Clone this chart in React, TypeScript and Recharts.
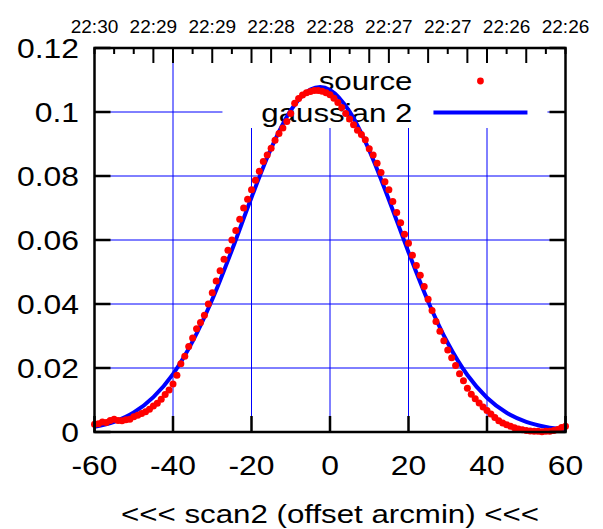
import React from 'react';
import { ComposedChart, XAxis, YAxis, CartesianGrid, Line, Scatter, ReferenceArea } from 'recharts';

// measured source points (offset arcmin, intensity)
const SOURCE_X = [
  -60, -59, -58, -57, -56, -55, -54, -53, -52, -51, -50, -49, -48, -47, -46, -45, -44, -43, -42, -41,
  -40, -39, -38, -37, -36, -35, -34, -33, -32, -31, -30, -29, -28, -27, -26, -25, -24, -23, -22, -21,
  -20, -19, -18, -17, -16, -15, -14, -13, -12, -11, -10, -9, -8, -7, -6, -5, -4, -3, -2, -1,
  0, 1, 2, 3, 4, 5, 6, 7, 8, 9, 10, 11, 12, 13, 14, 15, 16, 17, 18, 19,
  20, 21, 22, 23, 24, 25, 26, 27, 28, 29, 30, 31, 32, 33, 34, 35, 36, 37, 38, 39,
  40, 41, 42, 43, 44, 45, 46, 47, 48, 49, 50, 51, 52, 53, 54, 55, 56, 57, 58, 59, 60,
];
const SOURCE_Y = [
  0.0024, 0.0026, 0.0031, 0.0030, 0.0036, 0.0040, 0.0036, 0.0035, 0.0038, 0.0040,
  0.0048, 0.0052, 0.0058, 0.0063, 0.0071, 0.0081, 0.0090, 0.0102, 0.0117, 0.0131,
  0.0150, 0.0177, 0.0213, 0.0237, 0.0267, 0.0294, 0.0323, 0.0342, 0.0365, 0.0400,
  0.0435, 0.0472, 0.0504, 0.0540, 0.0568, 0.0600, 0.0630, 0.0665, 0.0700, 0.0727,
  0.0757, 0.0787, 0.0815, 0.0845, 0.0866, 0.0887, 0.0912, 0.0933, 0.0950, 0.0970,
  0.0995, 0.1027, 0.1042, 0.1053, 0.1060, 0.1064, 0.1067, 0.1067, 0.1065, 0.1060,
  0.1054, 0.1043, 0.1030, 0.1014, 0.0995, 0.0978, 0.0960, 0.0943, 0.0930, 0.0913,
  0.0885, 0.0866, 0.0840, 0.0811, 0.0782, 0.0757, 0.0720, 0.0686, 0.0654, 0.0618,
  0.0590, 0.0552, 0.0520, 0.0490, 0.0455, 0.0415, 0.0380, 0.0345, 0.0315, 0.0285,
  0.0256, 0.0232, 0.0208, 0.0182, 0.0160, 0.0137, 0.0118, 0.0104, 0.0091, 0.0078,
  0.0067, 0.0056, 0.0045, 0.0035, 0.0028, 0.0023, 0.0018, 0.0013, 0.0009, 0.0007,
  0.0005, 0.0003, 0.0002, 0.0002, 0.0001, 0.0002, 0.0002, 0.0005, 0.0008, 0.0014, 0.0018,
];

// gaussian 2 fit
const FIT_X = [-60, -55, -50, -45, -40, -35, -30, -25, -20, -15, -10, -5, -2.5, 0, 5, 10, 15, 20, 25, 30, 35, 40, 45, 50, 55, 60];
const FIT_Y = [
  0.0016, 0.0032, 0.0061, 0.0109, 0.0181, 0.0283, 0.0414, 0.0568, 0.0733, 0.0886, 0.1005, 0.1070, 0.1078,
  0.1069, 0.1001, 0.0880, 0.0726, 0.0562, 0.0408, 0.0278, 0.0178, 0.0107, 0.0060, 0.0032, 0.0016, 0.0007,
];

const X_TICKS = [-60, -40, -20, 0, 20, 40, 60];
const Y_TICKS = [0, 0.02, 0.04, 0.06, 0.08, 0.1, 0.12];
const TOP_TICKS = [-60, -55, -50, -45, -40, -35, -30, -25, -20, -15, -10, -5, 0, 5, 10, 15, 20, 25, 30, 35, 40, 45, 50, 55, 60];
const TOP_LONG = [-45, -40, -30, -20, -15, -5, 0, 10, 15, 25, 35, 40, 50];
const TOP_LABEL_POS = [-60, -45, -30, -15, 0, 15, 30, 45, 60];
const TOP_LABELS = ['22:30', '22:29', '22:29', '22:28', '22:28', '22:27', '22:27', '22:26', '22:26'];

const sourceData = SOURCE_X.map((x, i) => ({ x, y: SOURCE_Y[i] }));
const fitData = FIT_X.map((x, i) => ({ x, g: FIT_Y[i] }));

const W = 603;
const H = 529;
const LEFT_W = 94.5;
const RIGHT_W = 37.5;
const TOP_H = 48;
const BOTTOM_H = 97;
const FONT = '"Liberation Sans", Arial, Helvetica, sans-serif';
const SX = 1.18; // the reference text is stretched sideways
const RED = '#ff0000';
const BLUE = '#0000ff';
const INK = '#000';

const SText = ({ x, y, anchor = 'middle', size = 27, sx = SX, children }: any) => (
  <text
    transform={`translate(${x},${y}) scale(${sx},1)`}
    textAnchor={anchor}
    fontSize={size}
    fontFamily={FONT}
    fill={INK}
  >
    {children}
  </text>
);

const LeftTick = (props: any) => (
  <SText x={Number(props.x) - 15.5} y={Number(props.y) + 10} anchor="end">{String(props.payload.value)}</SText>
);

const BottomTick = (props: any) => (
  <SText x={Number(props.x)} y={Number(props.y) + 43}>{String(props.payload.value)}</SText>
);

const TopTick = (props: any) => {
  const li = TOP_LABEL_POS.indexOf(props.payload.value);
  if (li < 0) return <g />;
  return <SText x={Number(props.x)} y={Number(props.y) - 15} size={19} sx={1}>{TOP_LABELS[li]}</SText>;
};

const KeyBox = (props: any) => {
  const { x, y, width, height } = props;
  return (
    <g>
      <rect x={x} y={y} width={width} height={height} fill="#fff" />
      <SText x={x + 190} y={y + 42} anchor="end" size={26.5}>source</SText>
      <circle cx={x + 258} cy={y + 33} r={3.4} fill={RED} />
      <SText x={x + 190} y={y + 74} anchor="end" size={26.5}>gaussian 2</SText>
      <line x1={x + 211} x2={x + 305} y1={y + 64.5} y2={y + 64.5} stroke={BLUE} strokeWidth={4} />
    </g>
  );
};

// gnuplot style border with inward tick marks, laid over the chart
const Border = () => {
  const left = LEFT_W;
  const right = W - RIGHT_W;
  const top = TOP_H;
  const bottom = H - BOTTOM_H;
  const px = (v: number) => left + ((v + 60) / 120) * (right - left);
  const py = (v: number) => bottom - (v / 0.12) * (bottom - top);
  let d = '';
  Y_TICKS.forEach((v) => {
    d += `M${left},${py(v)}h16M${right},${py(v)}h-16`;
  });
  X_TICKS.forEach((v) => {
    d += `M${px(v)},${bottom}v-16`;
  });
  let dTop = '';
  TOP_TICKS.forEach((v) => {
    dTop += `M${px(v)},${top}v${TOP_LONG.includes(v) ? 15 : 6}`;
  });
  return (
    <svg width={W} height={H} style={{ position: 'absolute', left: 0, top: 0, pointerEvents: 'none' }}>
      <path d={d} stroke={INK} strokeWidth={2.5} fill="none" />
      <path d={dTop} stroke={INK} strokeWidth={2} fill="none" />
      <rect x={left} y={top} width={right - left} height={bottom - top} fill="none" stroke={INK} strokeWidth={2.5} />
    </svg>
  );
};

const AxisTitle = (props: any) => {
  const vb = props.viewBox || {};
  return (
    <SText x={vb.x + vb.width / 2} y={vb.y + 91} size={26.5}>
      {'<<< scan2 (offset arcmin) <<<'}
    </SText>
  );
};

const Dot = (props: any) => <circle cx={props.cx} cy={props.cy} r={3.5} fill={RED} />;

export default function App() {
  return (
    <div style={{ position: 'absolute', left: 0, top: 0, width: W, height: H, background: '#fff' }}>
      <ComposedChart width={W} height={H} margin={{ top: 0, right: 0, bottom: 0, left: 0 }}>
        <CartesianGrid stroke={BLUE} strokeWidth={1} />
        <XAxis
          dataKey="x"
          type="number"
          domain={[-60, 60]}
          ticks={X_TICKS}
          interval={0}
          height={BOTTOM_H}
          tickSize={0}
          tickMargin={0}
          tickLine={false}
          axisLine={false}
          tick={<BottomTick />}
          label={{ content: <AxisTitle /> }}
        />
        <XAxis
          xAxisId="top"
          orientation="top"
          dataKey="x"
          type="number"
          domain={[-60, 60]}
          ticks={TOP_TICKS}
          interval={0}
          height={TOP_H}
          tickSize={0}
          tickMargin={0}
          tickLine={false}
          axisLine={false}
          tick={<TopTick />}
        />
        <YAxis
          type="number"
          domain={[0, 0.12]}
          ticks={Y_TICKS}
          interval={0}
          width={LEFT_W}
          tickSize={0}
          tickMargin={0}
          tickLine={false}
          axisLine={false}
          tick={<LeftTick />}
        />
        <YAxis yAxisId="right" orientation="right" width={RIGHT_W} tick={false} axisLine={false} tickLine={false} domain={[0, 0.12]} type="number" />
        <ReferenceArea x1={-27.4} x2={55.4} y1={0.095} y2={0.12} ifOverflow="visible" shape={<KeyBox />} />
        <Scatter data={sourceData} dataKey="y" shape={<Dot />} isAnimationActive={false} />
        <Line
          xAxisId="top"
          data={fitData}
          dataKey="g"
          type="monotone"
          stroke={BLUE}
          strokeWidth={4}
          dot={false}
          activeDot={false}
          isAnimationActive={false}
        />
      </ComposedChart>
      <Border />
    </div>
  );
}
